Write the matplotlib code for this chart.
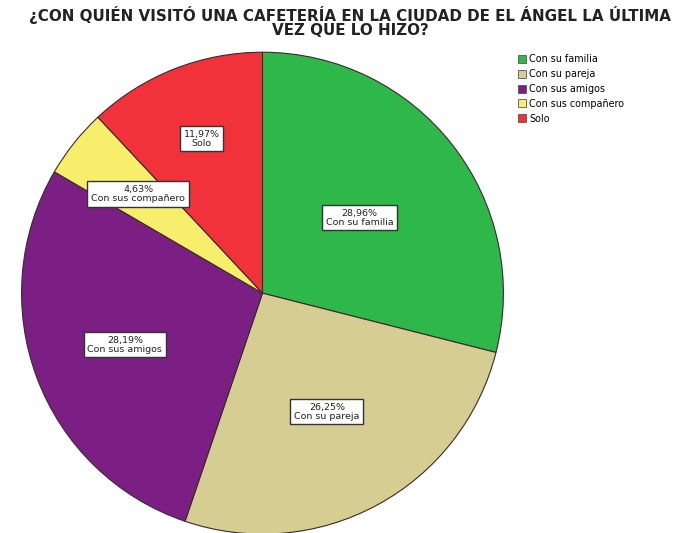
import numpy as np
import matplotlib
matplotlib.use("Agg")
import matplotlib.pyplot as plt
from matplotlib.patches import Patch

plt.rcParams['font.family'] = ['DejaVu Sans']

categories = ["Con su familia", "Con su pareja", "Con sus amigos",
              "Con sus compañero", "Solo"]
values = [28.96, 26.25, 28.19, 4.63, 11.97]
colors = ["#2fb84a", "#d5cd92", "#7c1f84", "#f7ef6b", "#f1323a"]
label_radius = [0.51, 0.56, 0.61, 0.66, 0.69]

title = "¿CON QUIÉN VISITÓ UNA CAFETERÍA EN LA CIUDAD DE EL ÁNGEL LA ÚLTIMA\nVEZ QUE LO HIZO?"

fig = plt.figure(figsize=(6.85, 5.33), dpi=100)
ax = fig.add_axes([0.0314, -0.002, 0.7036, 0.904])

wedges, _ = ax.pie(values, colors=colors, startangle=90, counterclock=False,
                   radius=1.0,
                   wedgeprops=dict(edgecolor="#3a2a2a", linewidth=0.8))
ax.set_xlim(-1, 1)
ax.set_ylim(-1, 1)
ax.set_aspect("equal")
ax.axis("off")

for w, v, cat, r in zip(wedges, values, categories, label_radius):
    mid = np.deg2rad((w.theta1 + w.theta2) / 2)
    x, y = r * np.cos(mid), r * np.sin(mid)
    txt = f"{v:.2f}%".replace(".", ",") + "\n" + cat
    ax.text(x, y, txt, ha="center", va="center", fontsize=6.8,
            color="#222222", linespacing=1.0,
            bbox=dict(boxstyle="square,pad=0.4", facecolor="white",
                      edgecolor="#333333", linewidth=1.0))

fig.text(0.511, 0.988, title, ha="center", va="top", fontsize=10.9,
         fontweight="bold", color="#222222", linespacing=0.92)

handles = [Patch(facecolor=c, edgecolor="#555555", linewidth=0.6) for c in colors]
fig.legend(handles, categories, loc="upper left",
           bbox_to_anchor=(0.756, 0.898), frameon=False, fontsize=6.9,
           handlelength=0.85, handleheight=0.9, handletextpad=0.35,
           labelspacing=0.5, borderaxespad=0, borderpad=0)

fig.savefig("out.png", dpi=100, facecolor="white")
